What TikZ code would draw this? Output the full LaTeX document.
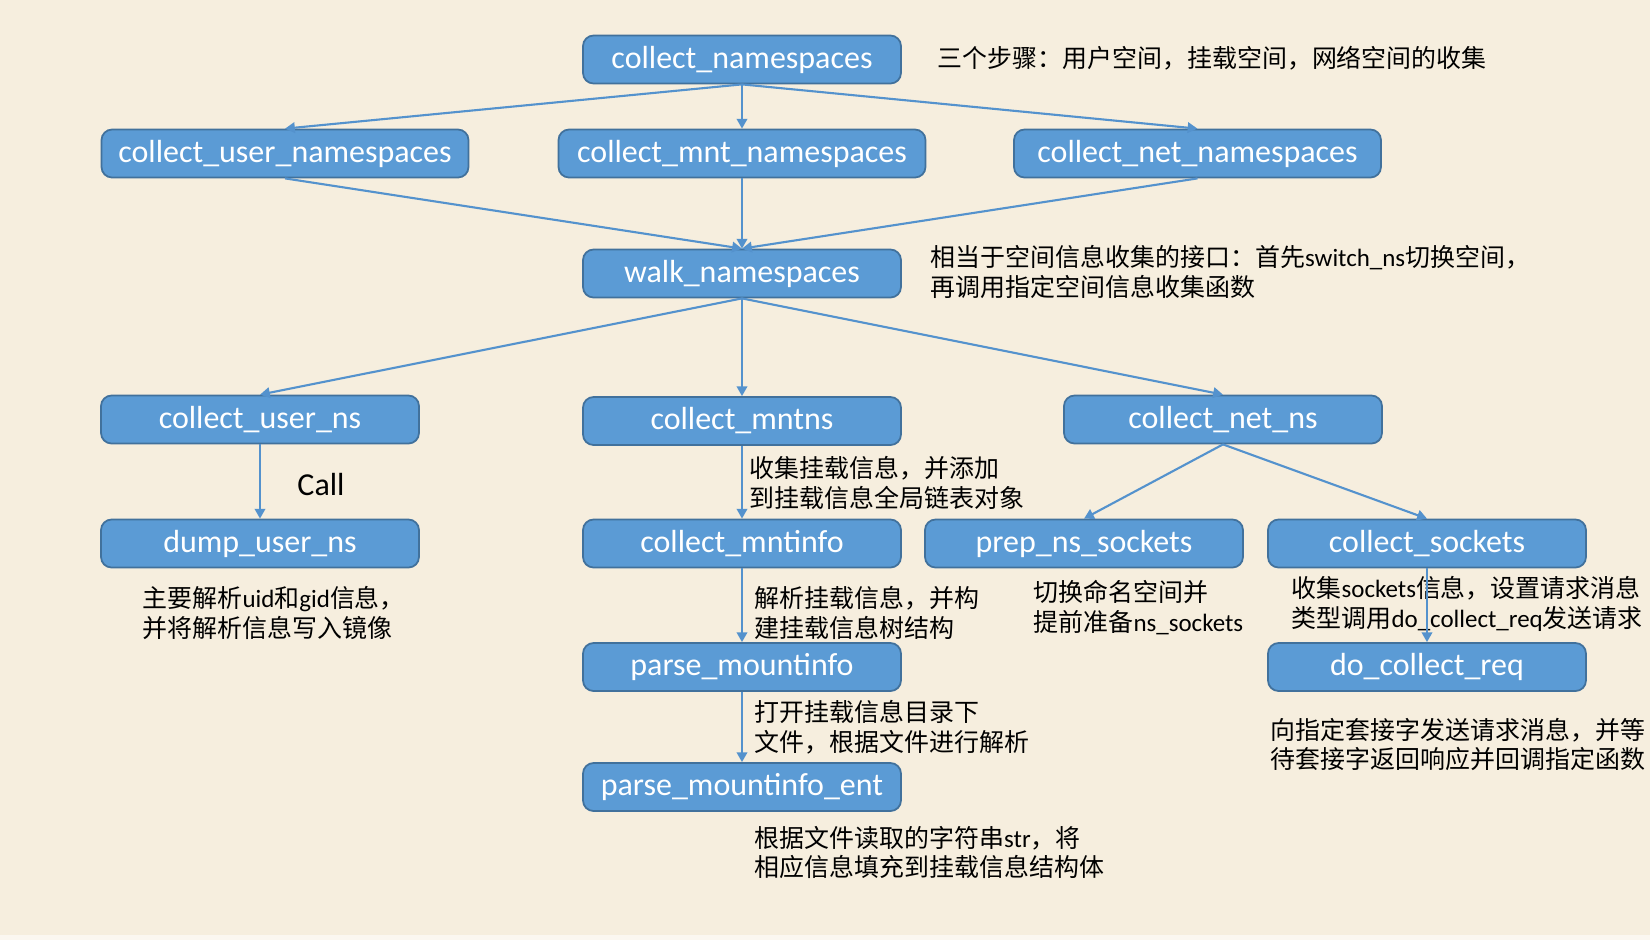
\documentclass[tikz,border=0pt]{standalone}
\usepackage{fontspec}
\setmainfont{Carlito}
\newfontfamily\cjk{Noto Sans CJK SC}
\usetikzlibrary{arrows.meta}
\definecolor{boxblue}{RGB}{91,155,213}
\definecolor{boxedge}{RGB}{65,113,156}
\definecolor{linkblue}{RGB}{84,146,205}
\definecolor{paper}{RGB}{246,238,222}
\newcommand{\en}[1]{{\normalfont #1}}

\begin{document}
\begin{tikzpicture}[every node/.style={font=\fontsize{9.1}{11}\selectfont},
  fn/.style={rectangle, draw=boxedge, fill=boxblue, line width=0.5pt, rounded corners=3pt,
    text=white, minimum width=3.18cm, minimum height=0.48cm, inner sep=0pt, text depth=0.3ex},
  wide/.style={fn, minimum width=3.67cm},
  note/.style={anchor=west, align=left, inner sep=0pt, font=\cjk\fontsize{7.1}{8.5}\selectfont},
  link/.style={draw=linkblue, line width=0.6pt, -{Triangle[length=2.8pt, width=3pt]}}]
  % Page background
  \fill[paper] (0,0) rectangle (16.5,-9.4);
  \fill[white!55!paper] (0,-9.35) rectangle (16.5,-9.4);
  \useasboundingbox (0,0) rectangle (16.5,-9.4);
  % Top level and the three namespace collectors
  \node[fn] (cns) at (7.42,-0.595) {collect\_namespaces};
  \node[wide] (cuns) at (2.85,-1.535) {collect\_user\_namespaces};
  \node[wide] (cmns) at (7.42,-1.535) {collect\_mnt\_namespaces};
  \node[wide] (cnns) at (11.975,-1.535) {collect\_net\_namespaces};
  \node[fn] (walk) at (7.42,-2.735) {walk\_namespaces};
  % Per-namespace collectors
  \node[fn] (cun) at (2.60,-4.195) {collect\_user\_ns};
  \node[fn] (cmnt) at (7.42,-4.21) {collect\_mntns};
  \node[fn] (cnet) at (12.23,-4.195) {collect\_net\_ns};
  \node[fn] (dump) at (2.60,-5.435) {dump\_user\_ns};
  \node[fn] (cmi) at (7.42,-5.435) {collect\_mntinfo};
  \node[fn] (prep) at (10.84,-5.435) {prep\_ns\_sockets};
  \node[fn] (csock) at (14.27,-5.435) {collect\_sockets};
  \node[fn] (pmi) at (7.42,-6.67) {parse\_mountinfo};
  \node[fn] (dcr) at (14.27,-6.67) {do\_collect\_req};
  \node[fn] (pme) at (7.42,-7.87) {parse\_mountinfo\_ent};
  % Notes beside the boxes
  \node[note] (n0) at (9.37,-0.58) {三个步骤：用户空间，挂载空间，网络空间的收集};
  \node[note] (n1) at (9.30,-2.72) {相当于空间信息收集的接口：首先\en{switch\_ns}切换空间，\\再调用指定空间信息收集函数};
  \node (calllbl) at (3.21,-4.84) {Call};
  \node[note] (n2) at (1.42,-6.13) {主要解析\en{uid}和\en{gid}信息，\\并将解析信息写入镜像};
  \node[note] (n3) at (7.49,-4.83) {收集挂载信息，并添加\\到挂载信息全局链表对象};
  \node[note] (n4) at (7.54,-6.13) {解析挂载信息，并构\\建挂载信息树结构};
  \node[note] (n5) at (10.33,-6.075) {切换命名空间并\\提前准备\en{ns\_sockets}};
  \node[note] (n6) at (12.91,-6.035) {收集\en{sockets}信息，设置请求消息\\类型调用\en{do\_collect\_req}发送请求};
  \node[note] (n7) at (7.54,-7.275) {打开挂载信息目录下\\文件，根据文件进行解析};
  \node[note] (n8) at (12.70,-7.445) {向指定套接字发送请求消息，并等\\待套接字返回响应并回调指定函数};
  \node[note] (n9) at (7.54,-8.525) {根据文件读取的字符串\en{str}，将\\相应信息填充到挂载信息结构体};
  % Calls
  \draw[link] (cns.south) -- (cuns.north);
  \draw[link] (cns.south) -- (cmns.north);
  \draw[link] (cns.south) -- (cnns.north);
  \draw[link] (cuns.south) -- (walk.north);
  \draw[link] (cmns.south) -- (walk.north);
  \draw[link] (cnns.south) -- (walk.north);
  \draw[link] (walk.south) -- (cun.north);
  \draw[link] (walk.south) -- (cmnt.north);
  \draw[link] (walk.south) -- (cnet.north);
  \draw[link] (cun.south) -- (dump.north);
  \draw[link] (cmnt.south) -- (cmi.north);
  \draw[link] (cmi.south) -- (pmi.north);
  \draw[link] (pmi.south) -- (pme.north);
  \draw[link] (cnet.south) -- (prep.north);
  \draw[link] (cnet.south) -- (csock.north);
  \draw[link] (csock.south) -- (dcr.north);
\end{tikzpicture}
\end{document}
